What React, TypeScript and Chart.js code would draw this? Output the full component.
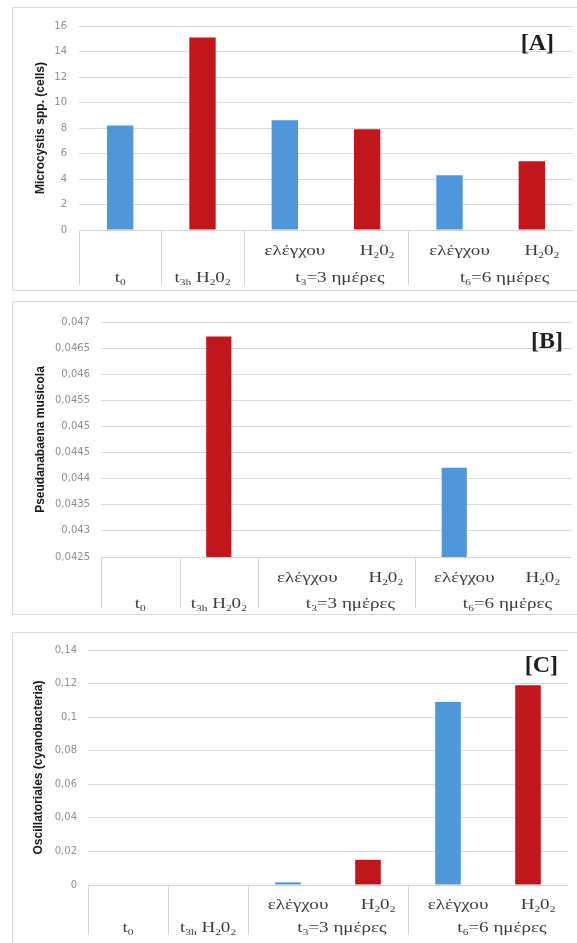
import React, { useEffect, useRef } from 'react';
import { Chart, registerables } from 'chart.js';

Chart.register(...registerables);

// ---- data ----
const LEVEL1_LABELS = ['', '', 'ελέγχου', 'H_{2}0_{2}', 'ελέγχου', 'H_{2}0_{2}'];
const GROUP_LABELS = ['t_{0}', 't_{3h} H_{2}0_{2}', 't_{3}=3 ημέρες', 't_{6}=6 ημέρες'];
const GROUP_SPANS = [1, 1, 2, 2];
const BAR_COLORS = ['#4f97da', '#c0161c', '#4f97da', '#c0161c', '#4f97da', '#c0161c'];

const MICROCYSTIS_VALUES = [8.2, 15.1, 8.6, 7.9, 4.3, 5.4];
const PSEUDANABAENA_VALUES = [null, 0.04672, null, null, 0.04421, null];
const OSCILLATORIALES_VALUES = [0, 0, 0.0016, 0.015, 0.109, 0.119];

const A_AXIS = { min: 0, max: 16, step: 2 };
const B_AXIS = { min: 0.0425, max: 0.047, step: 0.0005 };
const C_AXIS = { min: 0, max: 0.14, step: 0.02 };

const A_TITLE = 'Microcystis spp. (cells)';
const B_TITLE = 'Pseudanabaena musicola';
const C_TITLE = 'Oscillatoriales (cyanobacteria)';

// ---- helpers ----
function fmt(v: number): string {
  return String(parseFloat(v.toFixed(6))).replace('.', ',');
}

type Part = { t: string; sub: boolean };
function parseRich(s: string): Part[] {
  const parts: Part[] = [];
  const re = /_\{([^}]*)\}/g;
  let last = 0;
  let m: RegExpExecArray | null;
  while ((m = re.exec(s))) {
    if (m.index > last) parts.push({ t: s.slice(last, m.index), sub: false });
    parts.push({ t: m[1], sub: true });
    last = re.lastIndex;
  }
  if (last < s.length) parts.push({ t: s.slice(last), sub: false });
  return parts;
}

const SERIF = '"Liberation Serif", "Times New Roman", serif';

function drawRich(ctx: CanvasRenderingContext2D, s: string, cx: number, cy: number, size: number, sx: number) {
  if (!s) return;
  const parts = parseRich(s);
  const mainFont = `${size}px ${SERIF}`;
  const subFont = `${Math.round(size * 0.62)}px ${SERIF}`;
  const widths = parts.map((p) => {
    ctx.font = p.sub ? subFont : mainFont;
    return ctx.measureText(p.t).width;
  });
  const total = widths.reduce((a, b) => a + b, 0);
  ctx.save();
  ctx.translate(cx, cy);
  ctx.scale(sx, 1);
  ctx.textBaseline = 'alphabetic';
  ctx.textAlign = 'left';
  let x = -total / 2;
  const base = size * 0.33;
  parts.forEach((p, i) => {
    ctx.font = p.sub ? subFont : mainFont;
    ctx.fillText(p.t, x, p.sub ? base + size * 0.17 : base);
    x += widths[i];
  });
  ctx.restore();
}

const categoryAxisPlugin = {
  id: 'categoryAxis',
  afterDraw(chart: any, _args: any, opts: any) {
    const { ctx, chartArea } = chart;
    const xs = chart.scales.x;
    const y0 = chartArea.bottom;
    ctx.save();
    ctx.strokeStyle = '#d4d4d4';
    ctx.lineWidth = 1;
    ctx.beginPath();
    ctx.moveTo(chartArea.left, Math.round(y0) + 0.5);
    ctx.lineTo(chartArea.right, Math.round(y0) + 0.5);
    ctx.stroke();
    // dividers at group boundaries
    let idx = 0;
    const bounds = [0];
    GROUP_SPANS.forEach((s) => {
      idx += s;
      bounds.push(idx);
    });
    bounds.slice(0, -1).forEach((b) => {
      const px = Math.round(xs.getPixelForValue(b - 0.5)) + 0.5;
      ctx.beginPath();
      ctx.moveTo(px, y0);
      ctx.lineTo(px, y0 + opts.divLen);
      ctx.stroke();
    });
    ctx.fillStyle = '#3c3c3c';
    // level 1 labels
    LEVEL1_LABELS.forEach((lab, i) => {
      const cx = xs.getPixelForValue(i) + opts.shift1;
      drawRich(ctx, lab, cx, y0 + opts.row1, 15, 1.27);
    });
    // group labels
    let start = 0;
    GROUP_LABELS.forEach((lab, g) => {
      const span = GROUP_SPANS[g];
      const end = start + span - 1;
      const cx = (xs.getPixelForValue(start) + xs.getPixelForValue(end)) / 2 + opts.shift2 * (span - 1);
      drawRich(ctx, lab, cx, y0 + opts.row2, 15, 1.27);
      start = end + 1;
    });
    // panel tag
    ctx.font = `bold 24px ${SERIF}`;
    ctx.textAlign = 'right';
    ctx.textBaseline = 'middle';
    ctx.fillStyle = '#1e1e1e';
    ctx.fillText(opts.tag, chartArea.right + opts.tagDx, chartArea.top + opts.tagDy);
    ctx.restore();
  },
};

type PanelProps = {
  top: number;
  height: number;
  showBottom: boolean;
  values: (number | null)[];
  axis: { min: number; max: number; step: number };
  title: string;
  titlePad: number;
  plotLeft: number;
  padTop: number;
  padRight: number;
  xHeight: number;
  tickPad: number;
  tag: string;
  tagDx: number;
  tagDy: number;
  row1: number;
  row2: number;
  divLen: number;
};

const CANVAS_W = 564;

function Panel(p: PanelProps) {
  const ref = useRef<HTMLCanvasElement | null>(null);
  useEffect(() => {
    if (!ref.current) return;
    const chart = new Chart(ref.current, {
      type: 'bar',
      data: {
        labels: LEVEL1_LABELS.map((_, i) => String(i)),
        datasets: [
          {
            data: p.values as any,
            backgroundColor: BAR_COLORS,
            borderWidth: 0,
            barPercentage: 0.32,
            categoryPercentage: 1,
          },
        ],
      },
      options: {
        animation: false,
        responsive: false,
        devicePixelRatio: 1,
        layout: { padding: { top: p.padTop, right: p.padRight, left: 0, bottom: 0 } },
        plugins: {
          legend: { display: false },
          tooltip: { enabled: false },
          categoryAxis: {
            tag: p.tag,
            tagDx: p.tagDx,
            tagDy: p.tagDy,
            row1: p.row1,
            row2: p.row2,
            divLen: p.divLen,
            shift1: 10,
            shift2: 14,
          },
        } as any,
        scales: {
          x: {
            display: true,
            grid: { display: false },
            border: { display: false },
            ticks: { display: false },
            afterFit: (scale: any) => {
              scale.height = p.xHeight;
            },
          },
          y: {
            min: p.axis.min,
            max: p.axis.max,
            border: { display: false },
            grid: { color: '#d9d9d9', lineWidth: 1, drawTicks: false },
            ticks: {
              stepSize: p.axis.step,
              padding: p.tickPad,
              color: '#8f8f8f',
              font: { family: '"DejaVu Sans", sans-serif', size: 10 },
              callback: (v: any) => fmt(Number(v)),
            },
            title: {
              display: true,
              text: p.title,
              color: '#1a1a1a',
              font: { family: '"Liberation Sans", Arial, sans-serif', size: 12, weight: 'bold' },
              padding: { top: p.titlePad, bottom: 0 },
            },
            afterFit: (scale: any) => {
              scale.width = p.plotLeft;
            },
          },
        },
      },
      plugins: [categoryAxisPlugin],
    });
    return () => chart.destroy();
  }, []);
  return (
    <div
      style={{
        position: 'absolute',
        left: 12,
        top: p.top,
        width: 620,
        height: p.height,
        borderLeft: '1px solid #d9d9d9',
        borderTop: '1px solid #d9d9d9',
        borderBottom: p.showBottom ? '1px solid #d9d9d9' : 'none',
        background: '#fff',
      }}
    >
      <canvas
        ref={ref}
        width={CANVAS_W}
        height={p.height}
        style={{ display: 'block', width: CANVAS_W, height: p.height }}
      />
    </div>
  );
}

export default function App() {
  return (
    <div
      style={{
        position: 'fixed',
        left: 0,
        top: 0,
        width: 577,
        height: 943,
        overflow: 'hidden',
        background: '#fff',
      }}
    >
      <Panel
        top={7}
        height={282}
        showBottom={true}
        values={MICROCYSTIS_VALUES}
        axis={A_AXIS}
        title={A_TITLE}
        titlePad={20}
        plotLeft={66}
        padTop={15}
        padRight={4}
        xHeight={60}
        tickPad={12}
        tag="[A]"
        tagDx={-19}
        tagDy={18}
        row1={20}
        row2={47}
        divLen={55}
      />
      <Panel
        top={301}
        height={312}
        showBottom={true}
        values={PSEUDANABAENA_VALUES}
        axis={B_AXIS}
        title={B_TITLE}
        titlePad={20}
        plotLeft={88}
        padTop={20}
        padRight={5}
        xHeight={57}
        tickPad={11}
        tag="[B]"
        tagDx={-9}
        tagDy={20}
        row1={20}
        row2={46}
        divLen={51}
      />
      <Panel
        top={632}
        height={320}
        showBottom={false}
        values={OSCILLATORIALES_VALUES}
        axis={C_AXIS}
        title={C_TITLE}
        titlePad={18}
        plotLeft={75}
        padTop={16}
        padRight={9}
        xHeight={68}
        tickPad={11}
        tag="[C]"
        tagDx={-10}
        tagDy={16}
        row1={19}
        row2={42}
        divLen={50}
      />
    </div>
  );
}
